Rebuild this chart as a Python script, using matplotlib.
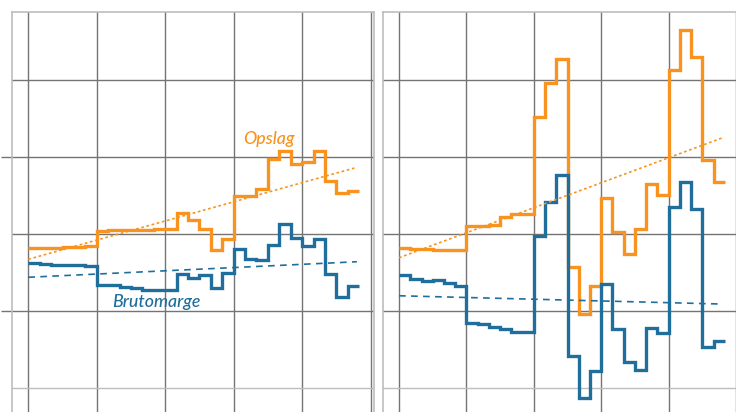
import matplotlib.pyplot as plt
import numpy as np

# step series (one value per period), two panels
opslag_links = [24.11, 24.11, 24.11, 24.14, 24.16, 24.19,
                25.21, 25.24, 25.26, 25.27, 25.29, 25.31,
                25.31, 26.34, 25.91, 25.32, 23.96, 24.66,
                27.47, 27.47, 27.90, 29.85, 30.39, 29.53,
                29.66, 30.39, 28.44, 27.68, 27.81]
bruto_links = [23.10, 23.03, 23.01, 23.01, 22.97, 22.92,
               21.71, 21.67, 21.56, 21.47, 21.36, 21.36,
               21.36, 22.40, 22.16, 22.34, 21.47, 22.49,
               24.03, 23.38, 23.31, 24.29, 25.63, 24.72,
               24.22, 24.66, 22.40, 20.89, 21.62]
opslag_rechts = [24.07, 24.01, 24.01, 23.96, 23.96, 23.96,
                 25.52, 25.52, 25.56, 26.12, 26.28, 26.28,
                 32.58, 34.82, 36.34, 22.88, 19.81, 21.64,
                 27.36, 25.15, 23.70, 25.31, 28.25, 27.53,
                 35.65, 38.23, 36.51, 29.81, 28.40]
bruto_rechts = [22.32, 22.06, 21.95, 22.01, 21.80, 21.64,
                19.24, 19.14, 18.98, 18.81, 18.62, 18.62,
                24.87, 27.10, 28.83, 17.10, 14.37, 16.10,
                21.73, 18.81, 16.67, 16.17, 18.92, 18.59,
                26.77, 28.36, 26.62, 17.68, 18.05]

# trend lines: start and end value
trend_opslag_links = [23.36, 29.33]
trend_bruto_links = [22.19, 23.20]
trend_opslag_rechts = [23.46, 31.25]
trend_bruto_rechts = [20.99, 20.45]
trend_x = [0, 28.8]

ORANJE = '#f7931e'
BLAUW = '#1f6e9c'
GRID = '#747474'
RAND = '#bdbdbd'

fig = plt.figure(figsize=(7.36, 4.12), dpi=100)
ax1 = fig.add_axes([12/736, 0, 362/736, 400/412])
ax2 = fig.add_axes([383/736, 0, 353/736, 400/412])


def opmaak(ax, xmax, ticks):
    ax.set_ylim(13.44, 39.42)
    ax.set_xlim(-1.43, xmax)
    ax.set_xticks(np.arange(0, 31, 6))
    ax.set_yticks([20, 30])
    ax.set_yticks([15, 25, 35], minor=True)
    ax.tick_params(axis='x', length=0, labelbottom=False)
    ax.tick_params(axis='y', which='minor', length=0, labelleft=False)
    ax.tick_params(axis='y', which='major', labelleft=False,
                   length=8 if ticks else 0, width=1.0, color=GRID)
    ax.grid(True, which='major', color=GRID, lw=1.0)
    ax.grid(True, which='minor', axis='y', color=GRID, lw=1.0)
    ax.yaxis.get_minor_ticks()[0].gridline.set_color(RAND)
    ax.spines['bottom'].set_visible(False)
    for s in ['left', 'top', 'right']:
        ax.spines[s].set_color(RAND)
        ax.spines[s].set_linewidth(1.2)
    ax.set_axisbelow(True)


def teken(ax, opslag, bruto, t_op, t_br):
    randen = np.arange(len(opslag) + 1)
    ax.stairs(opslag, randen, baseline=None, color=ORANJE, lw=2.4)
    ax.stairs(bruto, randen, baseline=None, color=BLAUW, lw=2.4)
    ax.plot(trend_x, t_op, color=ORANJE, lw=1.2, ls=(0, (1.6, 1.6)))
    ax.plot(trend_x, t_br, color=BLAUW, lw=1.2, ls=(0, (4, 3.2)))


opmaak(ax1, 30.3, True)
opmaak(ax2, 29.5, False)
ax2.spines['right'].set_visible(False)

teken(ax1, opslag_links, bruto_links, trend_opslag_links, trend_bruto_links)
teken(ax2, opslag_rechts, bruto_rechts, trend_opslag_rechts, trend_bruto_rechts)

ax1.text(21.1, 30.84, 'Opslag', color=ORANJE, fontsize=12.8,
         family='Lato', style='italic', weight='medium',
         ha='center', va='baseline')
ax1.text(11.25, 20.28, 'Brutomarge', color=BLAUW, fontsize=12.8,
         family='Lato', style='italic', weight='medium',
         ha='center', va='baseline')

fig.savefig('out.png', dpi=100)
